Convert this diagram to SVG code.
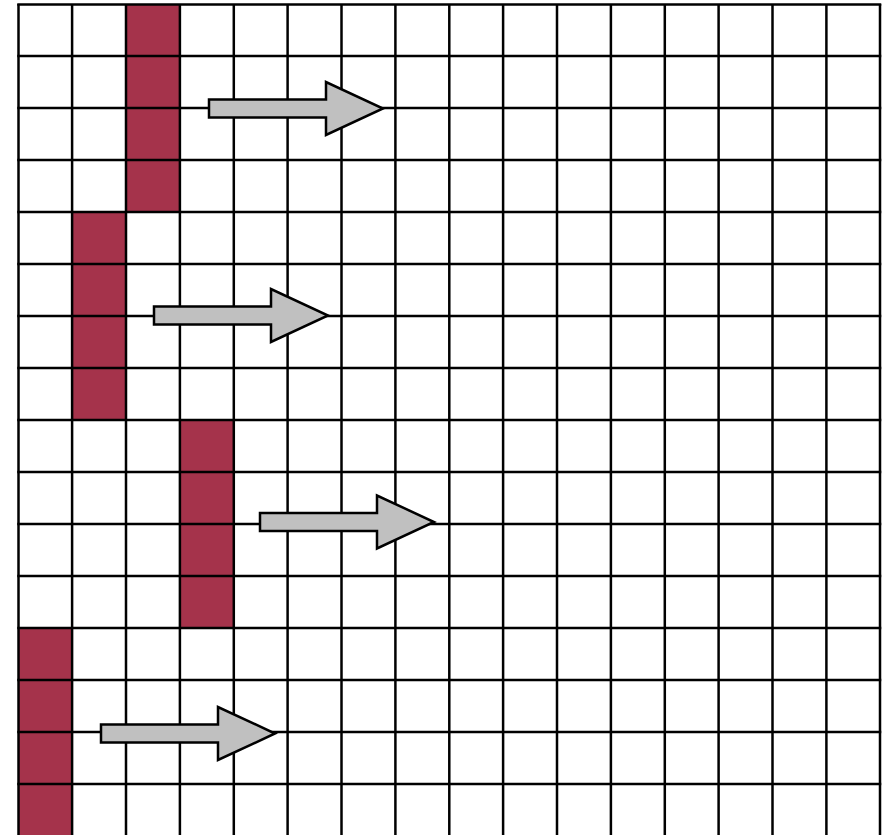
<svg xmlns="http://www.w3.org/2000/svg" width="885" height="835" viewBox="0 0 885 835">
<style>
.cell{fill:#A5334B;}
.grid line{stroke:#000;stroke-width:2.5;}
.arrow{fill:#C0C0C0;stroke:#000;stroke-width:2.5;stroke-linejoin:miter;}
</style>
<rect x="0" y="0" width="885" height="835" fill="#fff"/>
<g id="cells">
<rect class="cell" x="126" y="4" width="54" height="208"/>
<rect class="cell" x="72" y="212" width="54" height="208"/>
<rect class="cell" x="180" y="420" width="54" height="208"/>
<rect class="cell" x="18" y="628" width="54" height="208"/>
</g>
<g id="grid" class="grid">
<line x1="18.5" y1="4" x2="18.5" y2="836"/>
<line x1="72.1" y1="4" x2="72.1" y2="836"/>
<line x1="126" y1="4" x2="126" y2="836"/>
<line x1="179.9" y1="4" x2="179.9" y2="836"/>
<line x1="233.8" y1="4" x2="233.8" y2="836"/>
<line x1="287.6" y1="4" x2="287.6" y2="836"/>
<line x1="341.5" y1="4" x2="341.5" y2="836"/>
<line x1="395.4" y1="4" x2="395.4" y2="836"/>
<line x1="449.3" y1="4" x2="449.3" y2="836"/>
<line x1="503.1" y1="4" x2="503.1" y2="836"/>
<line x1="557" y1="4" x2="557" y2="836"/>
<line x1="610.9" y1="4" x2="610.9" y2="836"/>
<line x1="664.8" y1="4" x2="664.8" y2="836"/>
<line x1="718.6" y1="4" x2="718.6" y2="836"/>
<line x1="772.5" y1="4" x2="772.5" y2="836"/>
<line x1="826.4" y1="4" x2="826.4" y2="836"/>
<line x1="880" y1="4" x2="880" y2="836"/>
<line x1="17.25" y1="4.5" x2="881.25" y2="4.5"/>
<line x1="17.25" y1="56" x2="881.25" y2="56"/>
<line x1="17.25" y1="108" x2="881.25" y2="108"/>
<line x1="17.25" y1="160" x2="881.25" y2="160"/>
<line x1="17.25" y1="212" x2="881.25" y2="212"/>
<line x1="17.25" y1="264" x2="881.25" y2="264"/>
<line x1="17.25" y1="316" x2="881.25" y2="316"/>
<line x1="17.25" y1="368" x2="881.25" y2="368"/>
<line x1="17.25" y1="420" x2="881.25" y2="420"/>
<line x1="17.25" y1="472" x2="881.25" y2="472"/>
<line x1="17.25" y1="524" x2="881.25" y2="524"/>
<line x1="17.25" y1="576" x2="881.25" y2="576"/>
<line x1="17.25" y1="628" x2="881.25" y2="628"/>
<line x1="17.25" y1="680" x2="881.25" y2="680"/>
<line x1="17.25" y1="732" x2="881.25" y2="732"/>
<line x1="17.25" y1="784" x2="881.25" y2="784"/>
</g>
<g id="connectors">
<path id="arrow1" class="arrow" d="M209,99.5 H326 V82 L383,108.5 L326,135 V117.5 H209 Z"/>
<path id="arrow2" class="arrow" d="M154,306.5 H271 V289 L328,315.5 L271,342 V324.5 H154 Z"/>
<path id="arrow3" class="arrow" d="M260,513 H377 V495.5 L434,522 L377,548.5 V531 H260 Z"/>
<path id="arrow4" class="arrow" d="M101,724.5 H218 V707 L275,733.5 L218,760 V742.5 H101 Z"/>
</g>
</svg>
